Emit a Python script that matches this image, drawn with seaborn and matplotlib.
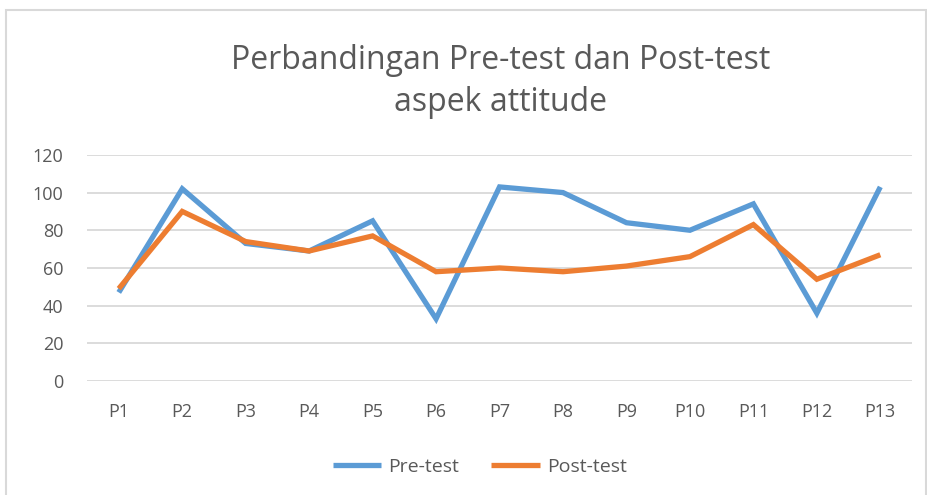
import pandas as pd
import matplotlib.pyplot as plt
import seaborn as sns
from matplotlib.patches import Rectangle

categories = ["P1", "P2", "P3", "P4", "P5", "P6", "P7", "P8", "P9", "P10", "P11", "P12", "P13"]
pre_test = [47, 102, 73, 69, 85, 33, 103, 100, 84, 80, 94, 36, 103]
post_test = [49, 90, 74, 69, 77, 58, 60, 58, 61, 66, 83, 54, 67]
series_names = ["Pre-test", "Post-test"]
y_ticks = [0, 20, 40, 60, 80, 100, 120]

df = pd.DataFrame({"peserta": categories * 2,
                   "nilai": pre_test + post_test,
                   "tes": [series_names[0]] * len(categories) + [series_names[1]] * len(categories)})
df["pos"] = df["peserta"].map({c: i for i, c in enumerate(categories)})

txt = "#595959"
sns.set_theme(style="white", rc={
    "ytick.major.pad": 17, "xtick.major.pad": 16,
    "ytick.labelsize": 13, "xtick.labelsize": 13,
    "ytick.color": txt, "xtick.color": txt,
    "ytick.major.size": 0, "xtick.major.size": 0,
})
plt.rcParams["font.family"] = ["Open Sans", "DejaVu Sans"]

fig = plt.figure(figsize=(9.28, 4.95), dpi=100)
ax = fig.add_axes([0.0938, 0.2303, 0.889, 0.4568])

sns.lineplot(data=df, x="pos", y="nilai", hue="tes", palette=["#5b9bd5", "#ed7d31"],
             linewidth=3.8, ax=ax, legend=True)
for ln in ax.get_lines():
    ln.set_solid_joinstyle("miter")
    ln.set_solid_capstyle("butt")

ax.set_xlim(-0.5, len(categories) - 0.5)
ax.set_ylim(0, 120)
ax.set_yticks(y_ticks, labels=[str(v) for v in y_ticks], fontsize=13, color=txt)
ax.set_xticks(range(len(categories)), labels=categories, fontsize=13, color=txt)
ax.yaxis.grid(True, color="#d9d9d9", linewidth=1.3)
ax.set_axisbelow(True)
for s in ax.spines.values():
    s.set_visible(False)
ax.set_xlabel("")
ax.set_ylabel("")

fig.text(0.539, 0.835, "Perbandingan Pre-test dan Post-test\naspek attitude",
         ha="center", va="center", fontsize=23, color=txt, linespacing=1.35)

handles, labels = ax.get_legend_handles_labels()
ax.legend(handles, labels, loc="center", bbox_to_anchor=(0.517, 0.057), bbox_transform=fig.transFigure,
          ncol=2, frameon=False, fontsize=14, labelcolor=txt, handlelength=2.5, columnspacing=1.65,
          handletextpad=0.36)

fig.patches.append(Rectangle((0.006, -0.01), 0.992, 0.99, transform=fig.transFigure,
                             fill=False, edgecolor="#d9d9d9", linewidth=1.5))

fig.savefig("out.png", dpi=100)
